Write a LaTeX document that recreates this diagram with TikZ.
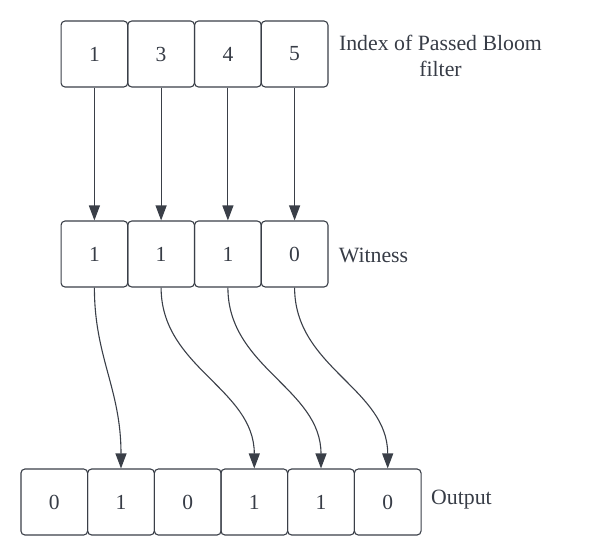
\documentclass[tikz,border=0pt]{standalone}
\usepackage{fontspec}
\setmainfont{Liberation Serif}
\usetikzlibrary{arrows.meta}
\definecolor{ln}{RGB}{58,63,72}
\definecolor{tx}{RGB}{55,60,70}
\begin{document}
\begin{tikzpicture}[x=1pt,y=-1pt,
  cell/.style={draw=ln,line width=1.1pt,rounded corners=4pt,minimum width=66.7pt,minimum height=66pt,inner sep=0pt,text=tx,font=\fontsize{21.5}{25}\selectfont},
  lbl/.style={text=tx,font=\fontsize{21.8}{26.5}\selectfont,align=center,inner sep=0pt},
  arr/.style={draw=ln,line width=1.1pt,-{Triangle[length=15pt,width=11pt]}}]
\useasboundingbox (0,0) rectangle (600,555);
% top row
\node[cell] (t1) at (94.4,54) {1};
\node[cell] (t2) at (161.1,54) {3};
\node[cell] (t3) at (227.9,54) {4};
\node[cell] (t4) at (294.6,54) {5};
% witness row
\node[cell] (w1) at (94.4,254) {1};
\node[cell] (w2) at (161.1,254) {1};
\node[cell] (w3) at (227.9,254) {1};
\node[cell] (w4) at (294.6,254) {0};
% output row
\node[cell] (o1) at (54.3,502) {0};
\node[cell] (o2) at (121,502) {1};
\node[cell] (o3) at (187.7,502) {0};
\node[cell] (o4) at (254.3,502) {1};
\node[cell] (o5) at (321,502) {1};
\node[cell] (o6) at (387.7,502) {0};
% labels
\node[lbl] (lidx) at (440.5,56) {Index of Passed Bloom\\filter};
\node[lbl] (lwit) at (373.5,255) {Witness};
\node[lbl] (lout) at (461.5,500) {Output};
% arrows
\draw[arr] (t1.south) -- (w1.north);
\draw[arr] (t2.south) -- (w2.north);
\draw[arr] (t3.south) -- (w3.north);
\draw[arr] (t4.south) -- (w4.north);
\draw[arr] (w1.south) .. controls +(0,70) and +(0,-80) .. (o2.north);
\draw[arr] (w2.south) .. controls +(0,80) and +(0,-80) .. (o4.north);
\draw[arr] (w3.south) .. controls +(0,80) and +(0,-80) .. (o5.north);
\draw[arr] (w4.south) .. controls +(0,80) and +(0,-80) .. (o6.north);
\end{tikzpicture}
\end{document}
